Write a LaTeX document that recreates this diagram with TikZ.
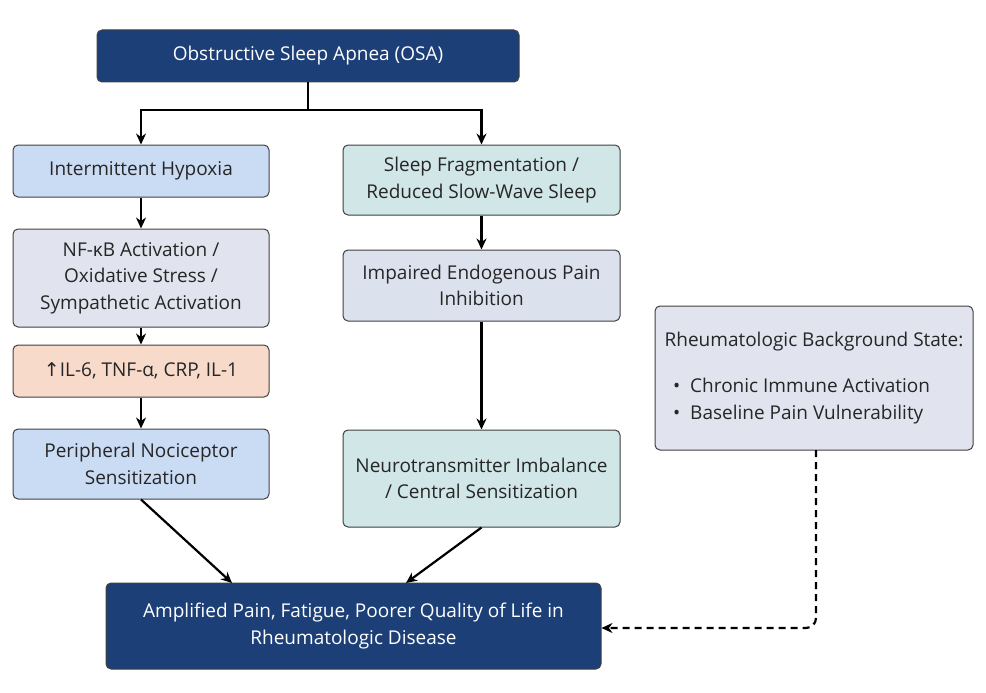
\documentclass[tikz,border=0pt]{standalone}
\usepackage{fontspec}
\setmainfont{Open Sans}
\newfontfamily\djv{DejaVu Sans}
\usetikzlibrary{arrows.meta}
\definecolor{dk}{HTML}{1C3F77}
\definecolor{lb}{HTML}{CADBF4}
\definecolor{tl}{HTML}{D0E6E7}
\definecolor{gr}{HTML}{E1E4EE}
\definecolor{pc}{HTML}{F8DACB}
\definecolor{gb}{HTML}{DCE1EE}
\tikzset{
 txt/.style={font=\fontsize{19}{26.5}\selectfont,text=black!85},
 box/.style={draw=black!75,line width=1pt,rounded corners=5pt,align=center,txt,inner sep=0pt},
 arr/.style={-{Stealth[length=11pt,width=10pt,open]},line width=2.2pt,black},
}
\begin{document}
\begin{tikzpicture}[x=1pt,y=-1pt]
\useasboundingbox (0,0) rectangle (986,693);
\node[box,fill=dk,text=white,minimum width=422,minimum height=52] (osa) at (308,56) {Obstructive Sleep Apnea (OSA)};
\node[box,fill=lb,minimum width=256,minimum height=52] (ih) at (141,171) {Intermittent Hypoxia};
\node[box,fill=tl,minimum width=277,minimum height=70] (sf) at (481.5,180) {Sleep Fragmentation /\\Reduced Slow-Wave Sleep};
\node[box,fill=gr,minimum width=256,minimum height=98] (nf) at (141,278) {NF-κB Activation /\\Oxidative Stress /\\Sympathetic Activation};
\node[box,fill=pc,minimum width=256,minimum height=52] (il) at (141,371) {{\djv ↑}IL-6, TNF-α, CRP, IL-1};
\node[box,fill=lb,minimum width=256,minimum height=70] (pn) at (141,464) {Peripheral Nociceptor\\Sensitization};
\node[box,fill=gb,minimum width=277,minimum height=71] (ip) at (481.5,285.5) {Impaired Endogenous Pain\\Inhibition};
\node[box,fill=tl,minimum width=277,minimum height=97] (nt) at (481.5,478.5) {Neurotransmitter Imbalance\\/ Central Sensitization};
\node[box,fill=gr,minimum width=318,minimum height=144] (rb) at (814,378) {};
\node[txt,anchor=center] (rbt) at (814,342) {Rheumatologic Background State:};
\node[txt,anchor=west,align=left,inner sep=0pt] (rbl) at (673,401) {•\ \ Chronic Immune Activation\\•\ \ Baseline Pain Vulnerability};
\node[box,fill=dk,text=white,minimum width=495,minimum height=86] (am) at (353.5,626) {Amplified Pain, Fatigue, Poorer Quality of Life in\\Rheumatologic Disease};
\coordinate (j) at (308,110);
\draw[line width=2.2pt] (osa.south) -- (j);
\draw[arr] (j) -| (ih.north);
\draw[arr] (j) -| (sf.north);
\draw[arr] (ih) -- (nf);
\draw[arr] (nf) -- (il);
\draw[arr] (il) -- (pn);
\draw[arr] (sf) -- (ip);
\draw[arr] (ip) -- (nt);
\draw[arr] (pn.south) -- (232,583);
\draw[arr] (nt.south) -- (406,583);
\draw[arr,dash pattern=on 7pt off 5pt,rounded corners=10pt] (816,450) |- (am.east |- 0,628);
\end{tikzpicture}
\end{document}
